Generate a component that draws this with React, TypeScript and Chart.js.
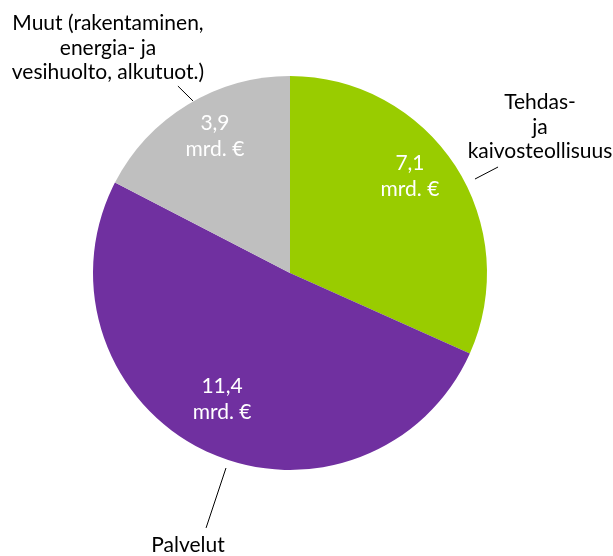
import React, { useEffect, useRef } from "react";
import { Chart, registerables } from "chart.js";

Chart.register(...registerables);

const categories = [
  "Tehdas-\nja\nkaivosteollisuus",
  "Palvelut",
  "Muut (rakentaminen,\nenergia- ja\nvesihuolto, alkutuot.)",
];
const values = [7.1, 11.4, 3.9];
const valueLabels = ["7,1\nmrd. €", "11,4\nmrd. €", "3,9\nmrd. €"];
const colors = ["#99CC00", "#7030A0", "#BFBFBF"];

// label anchors in units of pie radius, relative to pie centre
const valuePos = [
  [0.609, -0.49],
  [-0.345, 0.64],
  [-0.381, -0.695],
];
const namePos = [
  [1.269, -0.741],
  [-0.518, 1.381],
  [-0.924, -1.142],
];
const leaders = [
  [0.939, -0.477, 1.056, -0.538],
  [-0.325, 0.99, -0.426, 1.294],
  [-0.569, -0.949, -0.492, -0.873],
];

const FONT = "Lato, 'Open Sans', sans-serif";

const labelPlugin = {
  id: "pieLabels",
  afterDatasetsDraw(chart: any) {
    const ctx = chart.ctx;
    const meta = chart.getDatasetMeta(0);
    const arc0 = meta.data[0];
    const cx = arc0.x;
    const cy = arc0.y;
    const r = arc0.outerRadius;
    const lh = 24.5;
    ctx.save();
    ctx.textAlign = "center";
    ctx.textBaseline = "middle";
    meta.data.forEach((_: any, i: number) => {
      // value labels
      ctx.font = `21px ${FONT}`;
      ctx.fillStyle = "#FFFFFF";
      const vl = valueLabels[i].split("\n");
      const vx = cx + valuePos[i][0] * r;
      const vy = cy + valuePos[i][1] * r;
      vl.forEach((t, k) => {
        ctx.fillText(t, vx, vy + (k - (vl.length - 1) / 2) * 26);
      });
      // names
      ctx.font = `21px ${FONT}`;
      ctx.fillStyle = "#000000";
      const nl = categories[i].split("\n");
      const nx = cx + namePos[i][0] * r;
      const ny = cy + namePos[i][1] * r;
      nl.forEach((t, k) => {
        ctx.fillText(t, nx, ny + (k - (nl.length - 1) / 2) * lh);
      });
      // leader
      const L = leaders[i];
      ctx.strokeStyle = "#000000";
      ctx.lineWidth = 1;
      ctx.beginPath();
      ctx.moveTo(cx + L[0] * r, cy + L[1] * r);
      ctx.lineTo(cx + L[2] * r, cy + L[3] * r);
      ctx.stroke();
    });
    ctx.restore();
  },
};

export default function App() {
  const ref = useRef<HTMLCanvasElement | null>(null);
  useEffect(() => {
    if (!ref.current) return;
    const chart = new Chart(ref.current, {
      type: "pie",
      data: {
        labels: categories,
        datasets: [
          {
            data: values,
            backgroundColor: colors,
            borderWidth: 0,
          },
        ],
      },
      options: {
        animation: false,
        responsive: false,
        maintainAspectRatio: false,
        layout: { padding: { left: 93, right: 126, top: 76, bottom: 86 } },
        plugins: {
          legend: { display: false },
          tooltip: { enabled: false },
          title: { display: false },
        },
      },
      plugins: [labelPlugin],
    });
    return () => chart.destroy();
  }, []);
  return (
    <div style={{ position: "absolute", left: 0, top: 0, width: 613, height: 556, background: "#fff" }}>
      <canvas ref={ref} width={613} height={556} style={{ width: 613, height: 556 }} />
    </div>
  );
}
